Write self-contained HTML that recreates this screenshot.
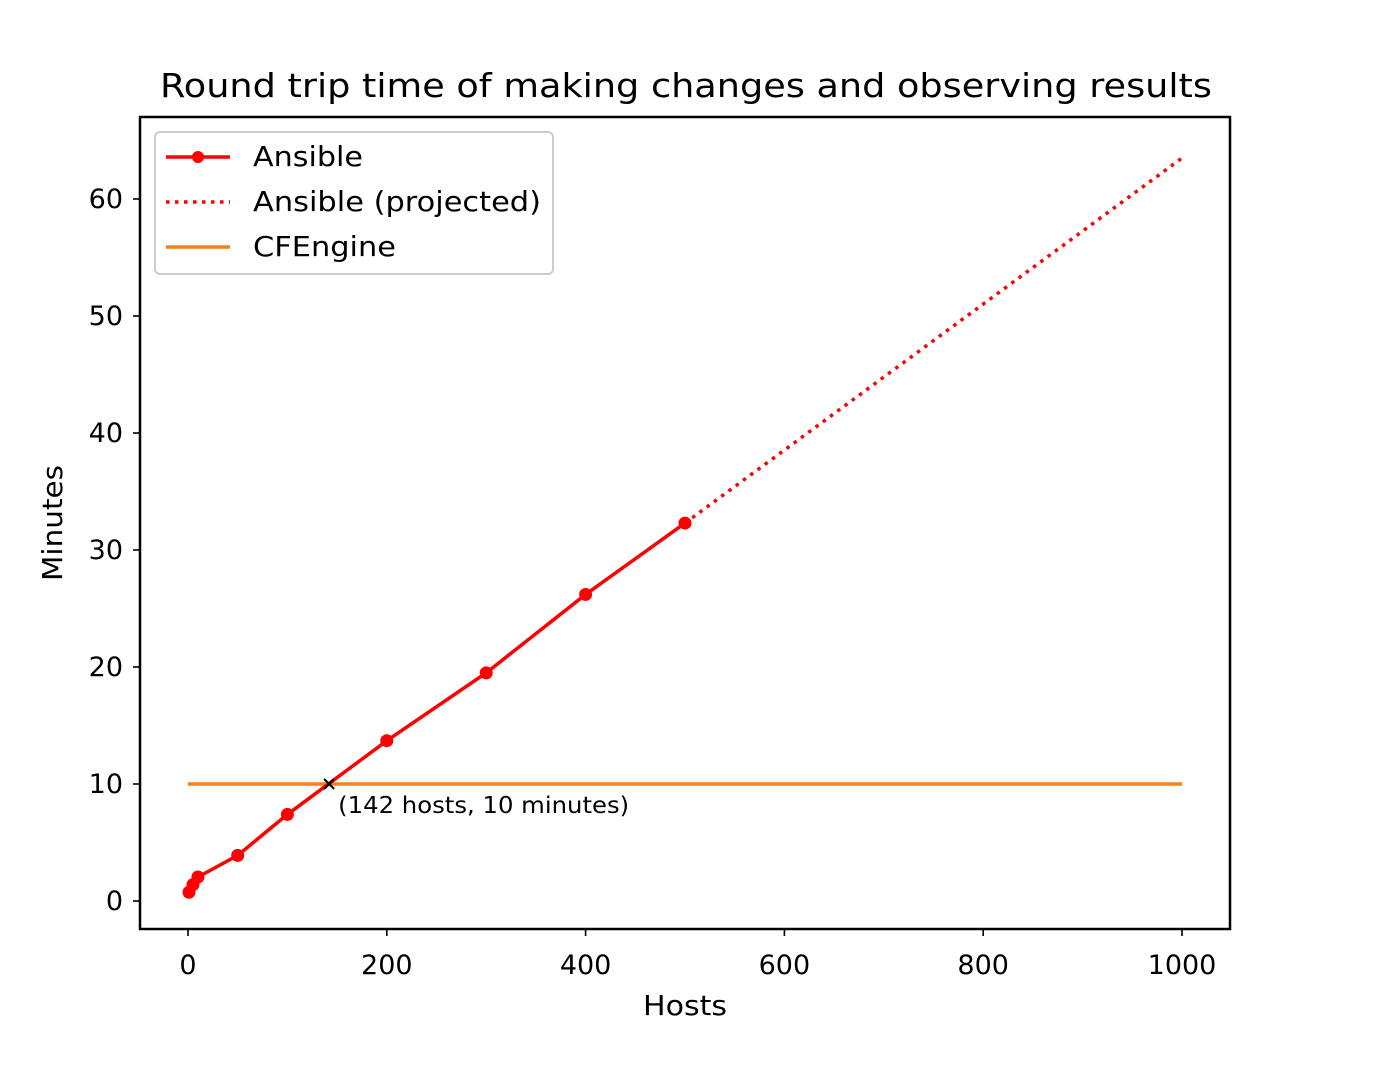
<!DOCTYPE html>
<html><head><meta charset="utf-8"><style>
body{margin:0;background:#fff}
svg text{font-family:"DejaVu Sans","Liberation Sans",sans-serif;fill:#000}
</style></head><body>
<svg id="chart" width="1390" height="1065">
<rect x="0" y="0" width="1390" height="1065" fill="#fff"/>
<g id="plot"></g>
<text x="160" y="97" style="font-size:33px" textLength="1052" lengthAdjust="spacingAndGlyphs">Round trip time of making changes and observing results</text>
<text x="643" y="1015" style="font-size:28px" textLength="84" lengthAdjust="spacingAndGlyphs">Hosts</text>
<text x="0" y="0" style="font-size:28px" textLength="116" lengthAdjust="spacingAndGlyphs" transform="translate(62 581) rotate(-90)">Minutes</text>
<rect x="140" y="117" width="1090" height="812" fill="none" stroke="#000" stroke-width="2.5"/>
<g>
<rect x="155" y="132" width="398" height="142" rx="5" fill="#fff" fill-opacity="0.8" stroke="#ccc" stroke-width="2"/>
<g><line x1="166" y1="157" x2="230" y2="157" stroke="#f00" stroke-width="3.5"/><circle cx="198" cy="157" r="6" fill="#f00"/><text x="253" y="166" style="font-size:28px" textLength="110" lengthAdjust="spacingAndGlyphs">Ansible</text></g>
<g><line x1="166" y1="202" x2="230" y2="202" stroke="#f00" stroke-width="3.5" stroke-dasharray="3.5,5.5"/><text x="253" y="211" style="font-size:28px" textLength="288" lengthAdjust="spacingAndGlyphs">Ansible (projected)</text></g>
<g><line x1="166" y1="247" x2="230" y2="247" stroke="#f5821f" stroke-width="3.5"/><text x="253" y="256" style="font-size:28px" textLength="143" lengthAdjust="spacingAndGlyphs">CFEngine</text></g>
</g>
</svg>
<script>
const hosts=[1,5,10,50,100,200,300,400,500];
const minutes=[0.75,1.4,2.05,3.9,7.4,13.7,19.5,26.2,32.3];
const projHosts=[500,1000];
const projMinutes=[32.3,63.5];
const cfHosts=[0,1000];
const cfMinutes=[10,10];
const xTicks=[0,200,400,600,800,1000];
const yTicks=[0,10,20,30,40,50,60];
const crossing=[142,10];
const X=v=>188+v*0.994;
const Y=v=>901-v*11.7;
const NS="http://www.w3.org/2000/svg";
const g=document.getElementById('plot');
function mk(t,a){const e=document.createElementNS(NS,t);for(const k in a)e.setAttribute(k,a[k]);g.appendChild(e);return e;}
xTicks.forEach(v=>{
 const l=mk('line',{x1:X(v),x2:X(v),y1:929,y2:936,stroke:'#000','stroke-width':1.6});
 
 
 const t=mk('text',{x:X(v),y:974,style:'font-size:27px','text-anchor':'middle'});t.textContent=v;
 
 
});
yTicks.forEach(v=>{
 const l=mk('line',{x1:133,x2:140,y1:Y(v),y2:Y(v),stroke:'#000','stroke-width':1.6});
 
 
 const t=mk('text',{x:123,y:Y(v)+9,style:'font-size:27px','text-anchor':'end'});t.textContent=v;
 
 
});
const cf=mk('polyline',{points:cfHosts.map((h,i)=>X(h)+','+Y(cfMinutes[i])).join(' '),fill:'none',stroke:'#f5821f','stroke-width':3.5});


const pr=mk('polyline',{points:projHosts.map((h,i)=>X(h)+','+Y(projMinutes[i])).join(' '),fill:'none',stroke:'#f00','stroke-width':3.5,'stroke-dasharray':'3.5,5.5'});


const an=mk('polyline',{points:hosts.map((h,i)=>X(h)+','+Y(minutes[i])).join(' '),fill:'none',stroke:'#f00','stroke-width':3.5});


hosts.forEach((h,i)=>{
 const c=mk('circle',{cx:X(h),cy:Y(minutes[i]),r:6.5,fill:'#f00'});
 
 
});
const cx=X(crossing[0]),cy=Y(crossing[1]);
const m=mk('path',{d:`M${cx-5},${cy-5}L${cx+5},${cy+5}M${cx-5},${cy+5}L${cx+5},${cy-5}`,stroke:'#000','stroke-width':2});


const at=mk('text',{x:cx+9,y:cy+29,style:'font-size:23px',textLength:291,lengthAdjust:'spacingAndGlyphs'});
at.textContent=`(${crossing[0]} hosts, ${crossing[1]} minutes)`;


</script>
</body></html>
